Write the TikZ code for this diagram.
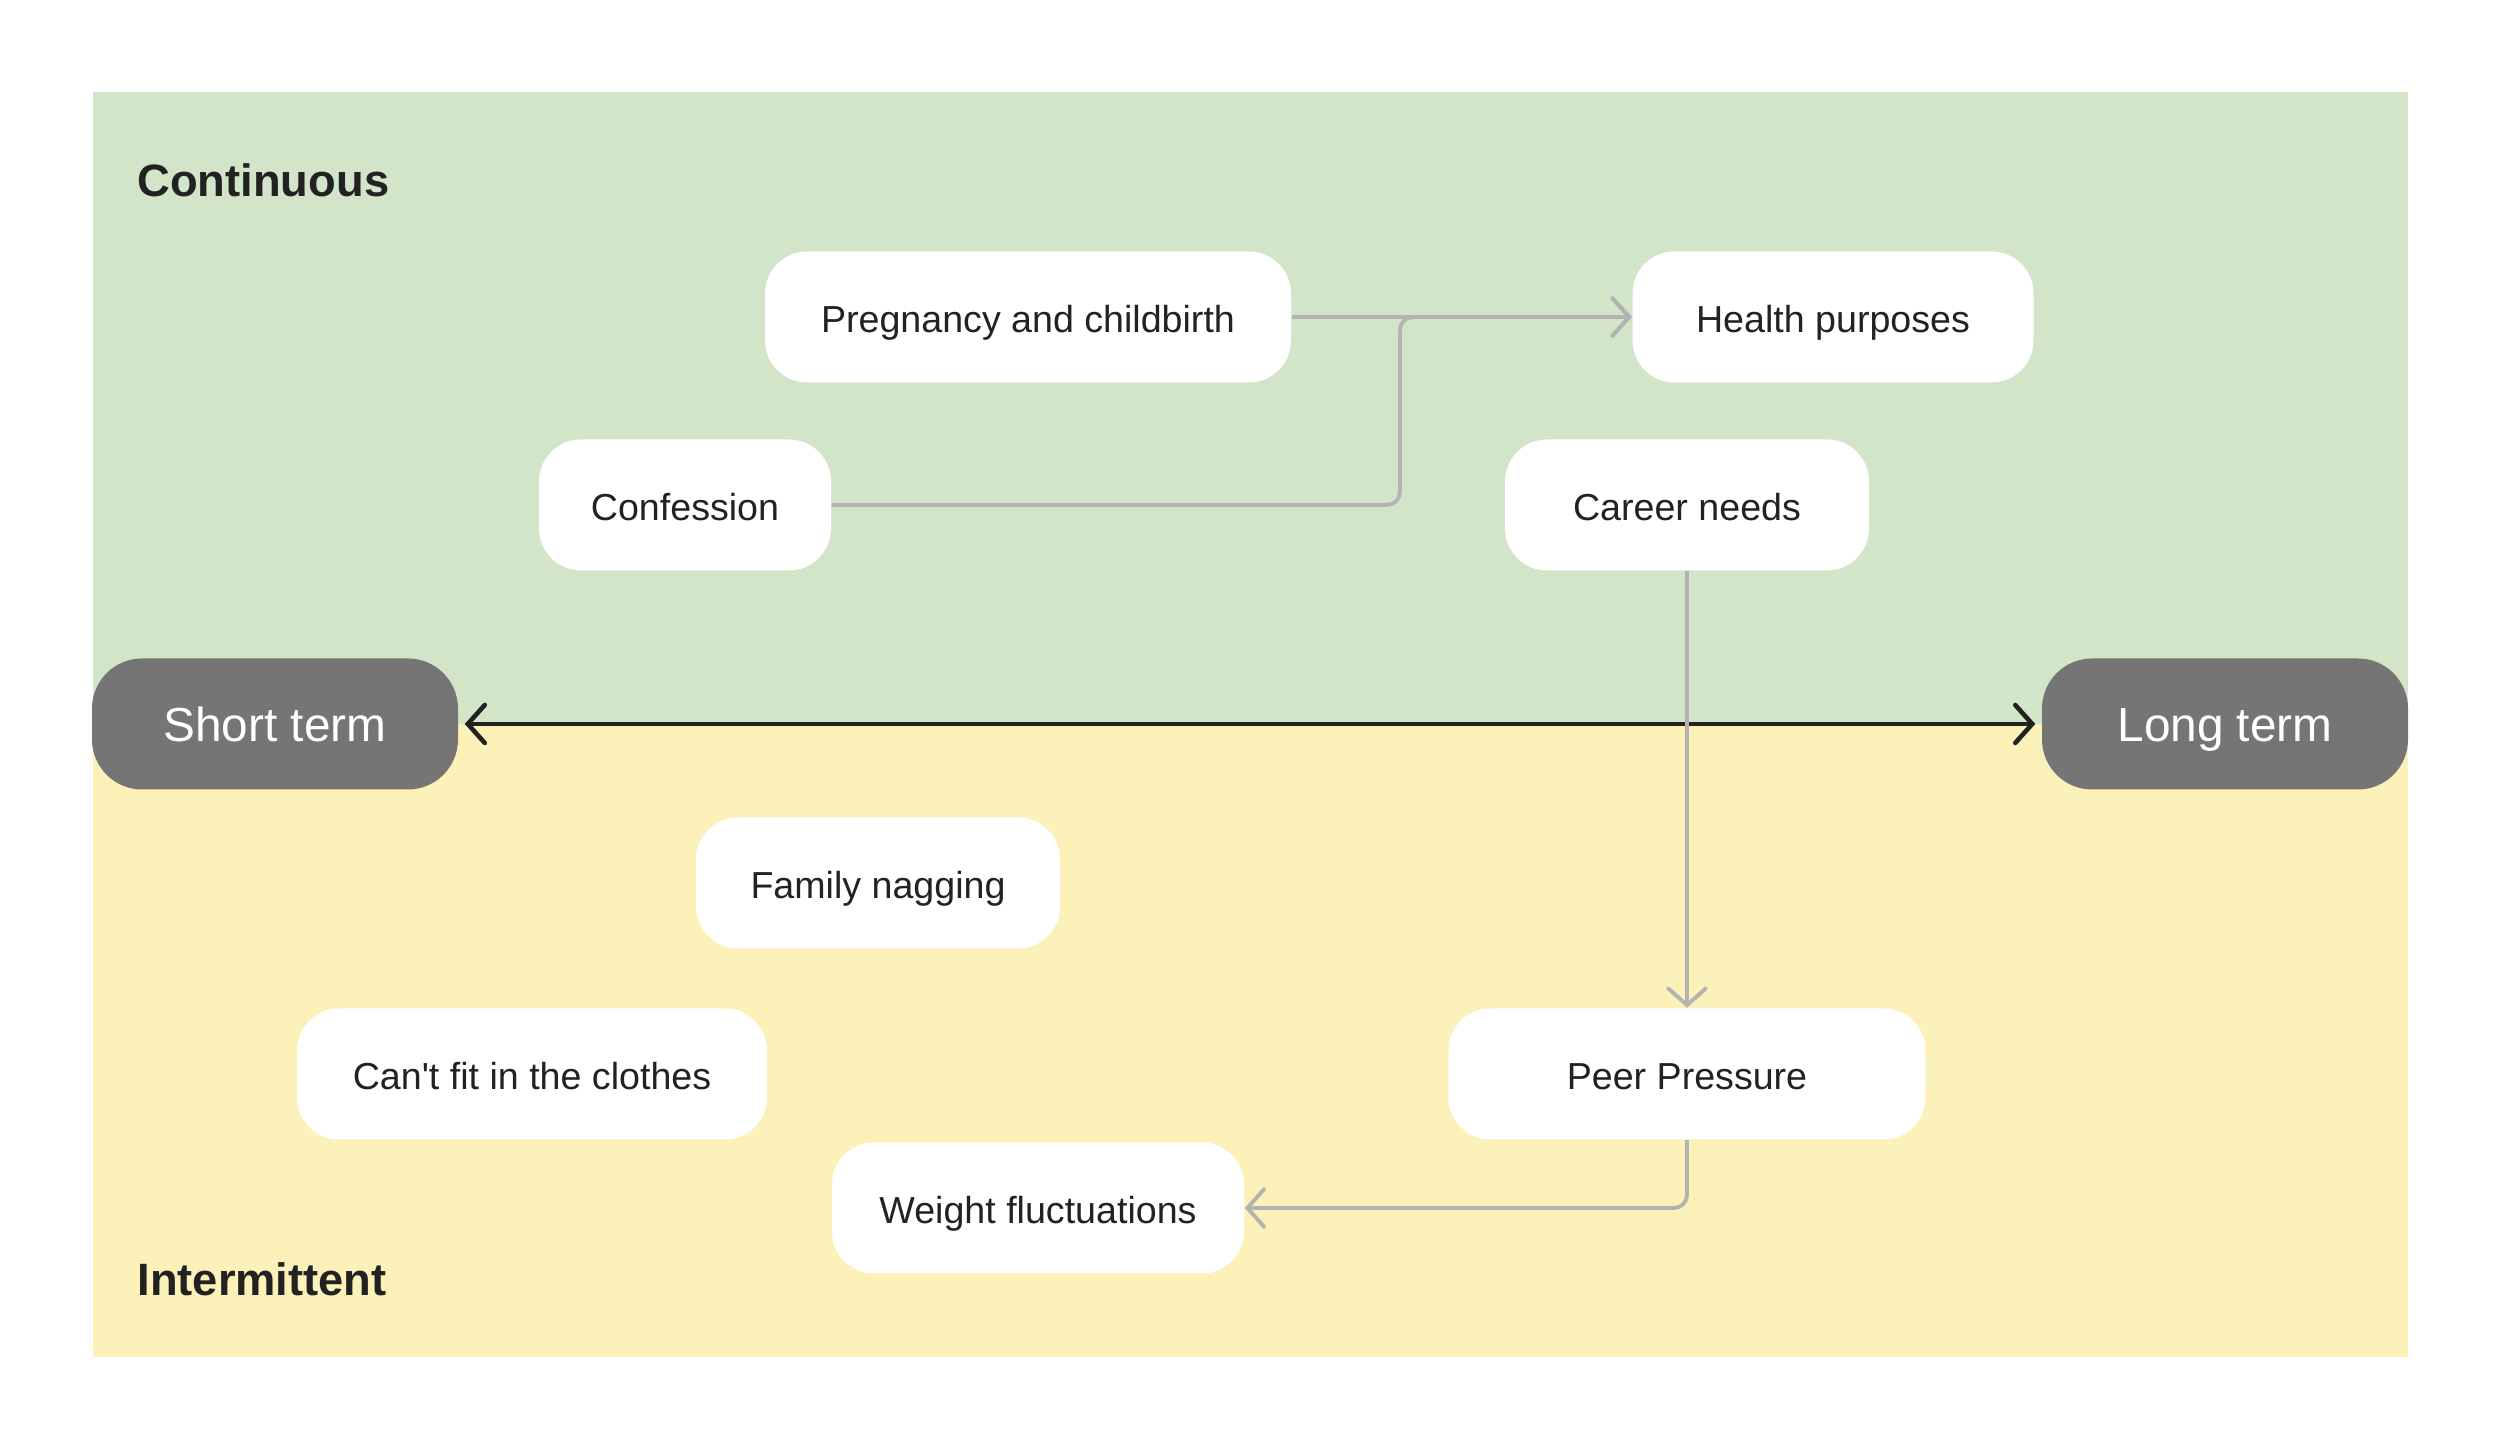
\documentclass[tikz,border=0pt]{standalone}
\usepackage{fontspec}
\setmainfont{Liberation Sans}
\newfontfamily\plainsans{Liberation Sans}
\usepackage{xcolor}
\usepackage{tikz}
\usetikzlibrary{arrows.meta,positioning}

\definecolor{contgreen}{HTML}{D2E5C9}
\definecolor{intyellow}{HTML}{FDF1BA}
\definecolor{termgray}{HTML}{757575}
\definecolor{linkgray}{HTML}{B3B3B3}
\definecolor{inkdark}{HTML}{222222}

\begin{document}
\begin{tikzpicture}[
    cause/.style={rectangle, fill=white, rounded corners=0.42cm, minimum height=1.31cm,
                  text height=0.89em, text depth=0pt, align=center, text=inkdark,
                  font=\plainsans\fontsize{10.7}{13}\selectfont},
    term/.style={rectangle, fill=termgray, rounded corners=0.5cm, minimum height=1.31cm,
                 minimum width=3.66cm, text height=0.98em, text depth=0pt, align=center,
                 text=white, font=\fontsize{13.6}{16}\selectfont},
    zone/.style={anchor=west, text=inkdark, font=\fontsize{12.9}{15}\selectfont\bfseries},
    link/.style={draw=linkgray, line width=1.1pt, rounded corners=0.13cm,
                 -{Straight Barb[length=0.17cm, width=0.38cm, line cap=round]}},
    axis/.style={draw=inkdark, line width=1.3pt,
                 {Straight Barb[length=0.17cm, width=0.38cm, line cap=round]}-{Straight Barb[length=0.17cm, width=0.38cm, line cap=round]}}
]

% Canvas
\useasboundingbox (0,0) rectangle (25,14.5);
\fill[white] (0,0) rectangle (25,14.5);
\fill[contgreen] (0.925,7.26) rectangle (24.075,13.575);
\fill[intyellow] (0.925,0.93) rectangle (24.075,7.26);

% Zone labels
\node[zone] (continuous) at (1.25,12.70) {Continuous};
\node[zone] (intermittent) at (1.25,1.71) {Intermittent};

% Continuous causes
\node[cause, minimum width=5.26cm] (preg) at (10.28,11.33) {Pregnancy and childbirth};
\node[cause, minimum width=4.01cm] (health) at (18.33,11.33) {Health purposes};
\node[cause, minimum width=2.92cm] (conf) at (6.85,9.45) {Confession};
\node[cause, minimum width=3.64cm] (career) at (16.87,9.45) {Career needs};

% Time axis
\node[term] (short) at (2.75,7.26) {Short term};
\node[term] (long) at (22.25,7.26) {Long term};

% Intermittent causes
\node[cause, minimum width=3.64cm] (family) at (8.78,5.67) {Family nagging};
\node[cause, minimum width=4.70cm] (cantfit) at (5.32,3.76) {Can't fit in the clothes};
\node[cause, minimum width=4.77cm] (peer) at (16.87,3.76) {Peer Pressure};
\node[cause, minimum width=4.12cm] (weight) at (10.38,2.42) {Weight fluctuations};

% Connectors
\coordinate (merge) at (14.00,11.33);
\draw[axis] ([xshift=0.06cm]short.east) -- ([xshift=-0.06cm]long.west);
\draw[link] (preg.east) -- (health.west);
\draw[link] (conf.east) -| (merge) -- (health.west);
\draw[link] (career.south) -- (peer.north);
\draw[link] (peer.south) |- (weight.east);

\end{tikzpicture}
\end{document}
